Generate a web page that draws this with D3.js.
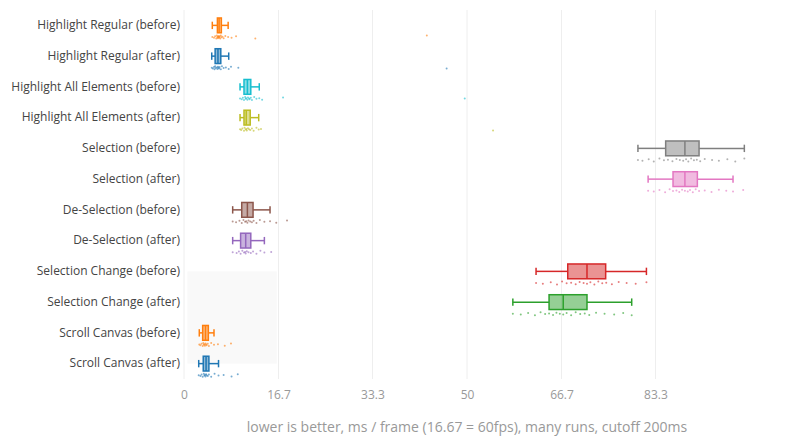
<!DOCTYPE html>
<html><head><meta charset="utf-8">
<script src="https://cdn.jsdelivr.net/npm/d3@7"></script>
<style>body{margin:0;background:#fff}svg{display:block;font-family:"Open Sans",sans-serif}</style>
</head><body>
<svg id="c" width="800" height="440"></svg>
<script>
const categories = ["Highlight Regular (before)","Highlight Regular (after)","Highlight All Elements (before)","Highlight All Elements (after)","Selection (before)","Selection (after)","De-Selection (before)","De-Selection (after)","Selection Change (before)","Selection Change (after)","Scroll Canvas (before)","Scroll Canvas (after)"];
const colors = ["#ff7f0e","#1f77b4","#17becf","#bcbd22","#7f7f7f","#e377c2","#8c564b","#9467bd","#d62728","#2ca02c","#ff7f0e","#1f77b4"];
// [lower whisker, q1, median, q3, upper whisker]
const boxStats = [
  [5.0, 5.9, 6.2, 6.6, 7.8],
  [4.9, 5.5, 6.0, 6.5, 7.9],
  [9.9, 10.6, 11.2, 11.8, 13.3],
  [9.9, 10.6, 11.0, 11.7, 13.2],
  [80.2, 85.1, 88.5, 91.0, 99.0],
  [82.0, 86.4, 88.5, 90.7, 97.0],
  [8.6, 10.2, 11.2, 12.2, 15.2],
  [8.6, 10.0, 10.9, 11.8, 14.2],
  [62.2, 67.8, 71.2, 74.5, 81.7],
  [58.1, 64.5, 67.0, 71.2, 79.1],
  [2.7, 3.3, 3.8, 4.3, 5.3],
  [2.6, 3.4, 3.9, 4.4, 6.1]
];
// individual runs (sampled)
const points = [
  [5.0,5.3,5.5,5.7,5.8,5.9,6.0,6.0,6.1,6.2,6.2,6.3,6.4,6.5,6.6,6.8,7.0,7.3,7.8,8.4,9.2,12.6,42.9],
  [4.9,5.1,5.3,5.4,5.5,5.6,5.8,5.9,6.0,6.1,6.2,6.3,6.5,6.7,7.0,7.4,7.9,8.3,9.6,46.4],
  [9.9,10.2,10.4,10.6,10.8,10.9,11.0,11.2,11.3,11.5,11.6,11.8,12.0,12.4,12.8,13.3,13.8,17.5,49.6],
  [9.9,10.1,10.3,10.6,10.7,10.9,11.0,11.1,11.3,11.5,11.7,12.0,12.3,12.8,13.2,13.6,54.6],
  [80.2,81.0,82.1,83.0,84.0,84.8,85.5,86.3,87.0,87.6,88.2,88.7,89.1,89.6,90.1,90.6,91.2,92.0,93.3,94.5,96.0,97.4,99.0],
  [82.0,83.0,84.0,85.0,85.8,86.4,87.0,87.5,88.0,88.5,89.0,89.4,89.9,90.4,91.0,92.0,93.2,94.5,95.8,97.0,98.8],
  [8.6,9.2,9.8,10.2,10.5,10.8,11.0,11.2,11.4,11.7,12.0,12.3,12.8,13.4,14.2,15.2,16.3,18.2],
  [8.6,9.3,9.7,10.0,10.3,10.6,10.8,10.9,11.1,11.4,11.8,12.2,12.8,13.5,14.2,15.4],
  [62.2,63.4,64.8,65.9,66.8,67.6,68.4,69.2,69.9,70.6,71.2,71.8,72.5,73.2,73.9,74.6,75.6,76.8,78.2,79.8,81.7],
  [58.1,59.5,60.8,62.0,63.0,63.8,64.5,65.2,65.8,66.4,67.0,67.6,68.4,69.2,70.0,70.8,71.6,72.8,74.3,76.0,77.6,79.1],
  [2.7,2.9,3.1,3.3,3.4,3.5,3.6,3.7,3.8,3.9,4.0,4.2,4.4,4.8,5.3,6.0,7.2,8.3],
  [2.6,2.9,3.1,3.3,3.5,3.6,3.7,3.8,3.9,4.0,4.2,4.4,4.8,5.4,6.1,7.0,8.4,9.5]
];
const xTicks = [0, 16.7, 33.3, 50, 66.7, 83.3];
const xTitle = "lower is better, ms / frame (16.67 = 60fps), many runs, cutoff 200ms";
const shade = {x0: 0.6, x1: 16.4, c0: "Selection Change (before)", c1: "Scroll Canvas (after)"};

const svg = d3.select("#c");
const mLeft = 184, mRight = 750, mTop = 10, mBottom = 379;
const x = d3.scaleLinear().domain([0, 100]).range([mLeft, mRight]);
const y = d3.scaleBand().domain(categories).range([mTop, mBottom]);
const cy = c => y(c) + y.bandwidth() / 2;

// shaded region
svg.append("rect")
  .attr("x", x(shade.x0)).attr("width", x(shade.x1) - x(shade.x0))
  .attr("y", cy(shade.c0)).attr("height", cy(shade.c1) - cy(shade.c0))
  .attr("fill", "#f9f9f9");

// grid
svg.append("g").selectAll("line").data(xTicks).join("line")
  .attr("x1", d => x(d)).attr("x2", d => x(d))
  .attr("y1", mTop).attr("y2", mBottom)
  .attr("stroke", "#eee").attr("stroke-width", 1);

// x axis labels
const xAxis = d3.axisBottom(x).tickValues(xTicks).tickSize(0).tickFormat(d => d);
const gx = svg.append("g").attr("transform", `translate(0,${mBottom + 8})`).call(xAxis);
gx.select(".domain").remove();
gx.selectAll("text").attr("fill", "#999").attr("font-size", 12).attr("font-family", "Open Sans");

// y axis labels
const yAxis = d3.axisLeft(y).tickSize(0).tickPadding(0);
const gy = svg.append("g").attr("transform", `translate(${mLeft - 4},0)`).call(yAxis);
gy.select(".domain").remove();
gy.selectAll("text").attr("fill", "#444").attr("font-size", 12).attr("font-family", "Open Sans");

// title
svg.append("text").attr("x", (mLeft + mRight) / 2).attr("y", 432)
  .attr("text-anchor", "middle").attr("fill", "#999").attr("font-size", 14)
  .text(xTitle);

const bh = 7.4, ch = 3.7;
const jitter = [0, 1.2, -0.8, 2, -1.6, 0.6, -0.2, 1.6, -1.2];
categories.forEach((cat, i) => {
  const [lo, q1, med, q3, hi] = boxStats[i];
  const c = cy(cat), col = colors[i];
  const g = svg.append("g");
  g.selectAll("circle").data(points[i]).join("circle")
    .attr("cx", d => x(d)).attr("cy", (d, k) => c + 11.5 + jitter[k % jitter.length] * 0.8)
    .attr("r", 1).attr("fill", col).attr("opacity", 0.6);
  g.append("line").attr("x1", x(lo)).attr("x2", x(q1)).attr("y1", c).attr("y2", c).attr("stroke", col).attr("stroke-width", 1.5);
  g.append("line").attr("x1", x(q3)).attr("x2", x(hi)).attr("y1", c).attr("y2", c).attr("stroke", col).attr("stroke-width", 1.5);
  [lo, hi].forEach(v => g.append("line").attr("x1", x(v)).attr("x2", x(v)).attr("y1", c - ch).attr("y2", c + ch).attr("stroke", col).attr("stroke-width", 1.5));
  g.append("rect").attr("x", x(q1)).attr("width", x(q3) - x(q1)).attr("y", c - bh).attr("height", 2 * bh)
    .attr("fill", col).attr("fill-opacity", 0.5).attr("stroke", col).attr("stroke-width", 1.5);
  g.append("line").attr("x1", x(med)).attr("x2", x(med)).attr("y1", c - bh).attr("y2", c + bh).attr("stroke", col).attr("stroke-width", 1.5);
});
</script>
</body></html>
